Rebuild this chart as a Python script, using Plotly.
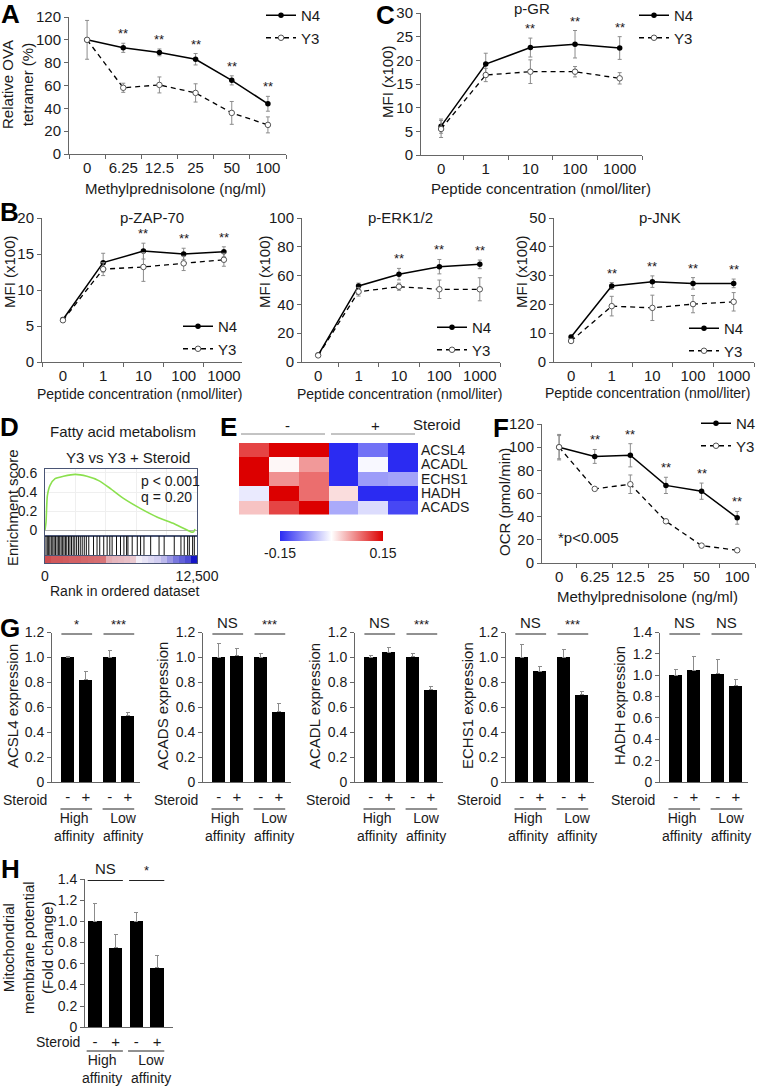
import numpy as np
import plotly.graph_objects as go

W, H = 757, 1090
FONT = "Liberation Sans, Arial, Helvetica, sans-serif"
AXC = "#666666"
ERRC = "#8c8c8c"
TXT = "#1a1a1a"

# ------------------------------------------------------------------ data
meth_doses = ["0", "6.25", "12.5", "25", "50", "100"]
peptide_conc = ["0", "1", "10", "100", "1000"]

ova_n4 = [100, 93, 89, 83, 64.5, 44]
ova_n4_err = [0, 4, 3, 5, 4, 6.5]
ova_y3 = [100, 58, 60.5, 53.5, 36, 25.5]
ova_y3_err = [17, 4, 7, 8, 10, 7]
ova_sig = ["", "**", "**", "**", "**", "**"]

pgr_n4 = [6.1, 19.2, 22.7, 23.4, 22.6]
pgr_n4_err = [1.5, 2.3, 2.0, 2.9, 2.4]
pgr_y3 = [5.5, 16.9, 17.6, 17.6, 16.2]
pgr_y3_err = [1.8, 1.4, 2.5, 1.1, 1.2]
pgr_sig = ["", "", "**", "**", "**"]

zap_n4 = [5.9, 13.8, 15.4, 15.0, 15.3]
zap_n4_err = [0.2, 1.3, 1.1, 0.8, 0.7]
zap_y3 = [5.8, 12.9, 13.2, 13.7, 14.2]
zap_y3_err = [0.2, 0.9, 2.0, 1.0, 0.9]
zap_sig = ["", "", "**", "**", "**"]

erk_n4 = [4.8, 52.8, 61.0, 66.2, 67.8]
erk_n4_err = [0.5, 2.0, 4.0, 5.0, 3.0]
erk_y3 = [4.6, 48.8, 52.3, 50.5, 50.5]
erk_y3_err = [0.5, 3.0, 2.5, 6.4, 8.0]
erk_sig = ["", "", "**", "**", "**"]

jnk_n4 = [8.7, 26.4, 27.9, 27.3, 27.3]
jnk_n4_err = [0.6, 1.2, 2.0, 2.0, 1.5]
jnk_y3 = [7.3, 19.4, 18.8, 20.1, 20.9]
jnk_y3_err = [0.5, 3.4, 4.4, 3.0, 3.2]
jnk_sig = ["", "**", "**", "**", "**"]

ocr_n4 = [100, 92, 93, 67, 62, 39]
ocr_n4_err = [11, 6, 10, 7, 7, 5.5]
ocr_y3 = [100, 64, 68, 36, 15, 11]
ocr_y3_err = [10, 0.5, 8, 0.5, 0.5, 0.5]
ocr_sig = ["", "**", "**", "**", "**", "**"]

# GSEA (panel D)
es_rank = [0, 83, 193, 414, 828, 1518, 2483, 3449, 4415, 5381, 6485, 7864,
           9244, 10624, 11728, 12004, 12224, 12335]
es_score = [0, 0.08, 0.36, 0.47, 0.54, 0.565, 0.585, 0.565, 0.52, 0.436, 0.33,
            0.225, 0.134, 0.067, -0.003, -0.02, -0.02, 0.01]
hit_ranks = [80, 190, 300, 400, 520, 640, 750, 860, 990, 1100, 1210, 1330, 1450,
             1560, 1680, 1790, 1930, 2050, 2180, 2320, 2450, 2600, 2750, 2900,
             3060, 3230, 3400, 3600, 3990, 4280, 4500, 4830, 5110, 5330, 5520,
             5880, 6210, 6490, 6710, 6820, 7170, 7590, 7860, 8140, 8690, 9380,
             9800, 10630, 11180, 11450, 11730, 11870, 12140, 12280]
rank_metric = [0.85, 0.8, 0.8, 0.78, 0.75, 0.75, 0.72, 0.7, 0.68, 0.65,
               0.35, 0.3, 0.28, 0.25, 0.2, 0.0, -0.05, -0.1, -0.15, -0.25,
               -0.4, -0.55, -0.65, -0.75, -1.0]

# Heatmap (panel E)
hm_genes = ["ACSL4", "ACADL", "ECHS1", "HADH", "ACADS"]
hm_samples = ["- 1", "- 2", "- 3", "+ 1", "+ 2", "+ 3"]
hm_z = [
    [0.11, 0.15, 0.15, -0.15, -0.10, -0.15],
    [0.15, 0.005, 0.06, -0.15, -0.005, -0.15],
    [0.15, 0.065, 0.085, -0.15, -0.07, -0.065],
    [-0.015, 0.15, 0.085, 0.02, -0.15, -0.15],
    [0.035, 0.11, 0.15, -0.06, -0.025, -0.13],
]

# Bar panels (G, H)
steroid_marks = ["-", "+", "-", "+"]
g_genes = ["ACSL4", "ACADS", "ACADL", "ECHS1", "HADH"]
g_vals = [
    [1.0, 0.82, 1.0, 0.53],
    [1.0, 1.015, 1.0, 0.562],
    [1.0, 1.04, 1.005, 0.74],
    [1.0, 0.887, 1.0, 0.70],
    [1.0, 1.045, 1.012, 0.902],
]
g_errs = [
    [0.006, 0.065, 0.053, 0.026],
    [0.115, 0.055, 0.03, 0.072],
    [0.012, 0.04, 0.025, 0.025],
    [0.107, 0.038, 0.067, 0.024],
    [0.057, 0.132, 0.132, 0.058],
]
g_sig = [["*", "***"], ["NS", "***"], ["NS", "***"], ["NS", "***"], ["NS", "NS"]]
g_ymax = [1.2, 1.2, 1.2, 1.2, 1.4]

mmp_vals = [1.0, 0.753, 1.0, 0.562]
mmp_errs = [0.17, 0.12, 0.08, 0.115]
mmp_sig = ["NS", "*"]

# ------------------------------------------------------------------ helpers
fig = go.Figure()
lay = {}
ann = []
shp = []


def px(x):
    return x / W


def py(y):
    return 1 - y / H


def refs(i):
    return ("x" if i == 1 else f"x{i}", "y" if i == 1 else f"y{i}")


def set_axes(i, xd, yd, xkw=None, ykw=None):
    xr, yr = refs(i)
    base = dict(showline=True, linecolor=AXC, linewidth=1, ticks="outside",
                ticklen=4, tickcolor=AXC, tickwidth=1, showgrid=False,
                zeroline=False, fixedrange=True, automargin=False,
                tickfont=dict(size=15, color=TXT, family=FONT))
    xa = dict(base)
    xa.update(domain=[px(xd[0]), px(xd[1])], anchor=yr, tickangle=0)
    ya = dict(base)
    ya.update(domain=[py(yd[1]), py(yd[0])], anchor=xr)
    if xkw:
        xa.update(xkw)
    if ykw:
        ya.update(ykw)
    lay["xaxis" if i == 1 else f"xaxis{i}"] = xa
    lay["yaxis" if i == 1 else f"yaxis{i}"] = ya
    return xr, yr


def text(x, y, t, size=15, xanchor="center", yanchor="middle", angle=0,
         bold=False, xref="paper", yref="paper", color=TXT, **kw):
    ann.append(dict(
        x=px(x) if xref == "paper" else x,
        y=py(y) if yref == "paper" else y,
        xref=xref, yref=yref, text=f"<b>{t}</b>" if bold else t,
        showarrow=False, xanchor=xanchor, yanchor=yanchor, textangle=angle,
        font=dict(size=size, family=FONT, color=color), **kw))


def hline(x0, x1, y, xref="paper", color="black", width=1):
    shp.append(dict(type="line", xref=xref, yref="paper",
                    x0=px(x0) if xref == "paper" else x0,
                    x1=px(x1) if xref == "paper" else x1,
                    y0=py(y), y1=py(y), line=dict(color=color, width=width)))


def line_panel(i, xd, yd, cats, n4, n4e, y3, y3e, sig, yrange, dtick,
               xrange, leg, leg_xy):
    xr, yr = set_axes(
        i, xd, yd,
        xkw=dict(type="category", range=xrange, tickson="boundaries"),
        ykw=dict(range=yrange, dtick=dtick, tick0=0))
    fig.add_trace(go.Scatter(
        x=cats, y=n4, mode="lines+markers", name="N4",
        line=dict(color="black", width=1.5),
        marker=dict(symbol="circle", size=5.5, color="black"),
        error_y=dict(type="data", array=n4e, color=ERRC, thickness=1, width=2),
        xaxis=xr, yaxis=yr, legend=leg))
    fig.add_trace(go.Scatter(
        x=cats, y=y3, mode="lines+markers", name="Y3",
        line=dict(color="black", width=1.3, dash="5px,4px"),
        marker=dict(symbol="circle", size=5.5, color="white",
                    line=dict(color="#555555", width=1)),
        error_y=dict(type="data", array=y3e, color=ERRC, thickness=1, width=2),
        xaxis=xr, yaxis=yr, legend=leg))
    for k, s in enumerate(sig):
        if s:
            ann.append(dict(x=k, y=n4[k] + n4e[k], xref=xr, yref=yr,
                            text=s, showarrow=False, yanchor="bottom",
                            font=dict(size=13, family=FONT, color=TXT)))
    lay[leg] = dict(x=px(leg_xy[0]), y=py(leg_xy[1]), xanchor="left",
                    yanchor="top", bgcolor="rgba(0,0,0,0)",
                    font=dict(size=15, family=FONT, color=TXT),
                    tracegroupgap=0, borderwidth=0)


def bar_panel(i, x0, xlen, yd, vals, errs, sig, ymax, pos, xrange, bw,
              steroid_y, group_y):
    ticks = [round(0.2 * k, 1) for k in range(int(round(ymax / 0.2)) + 1)]
    ttext = ["0" if t == 0 else f"{t:.1f}" for t in ticks]
    xr, yr = set_axes(
        i, (x0, x0 + xlen), yd,
        xkw=dict(range=xrange, tickvals=pos, ticktext=steroid_marks,
                 ticks="", ticklabelstandoff=1),
        ykw=dict(range=[0, ymax], tickvals=ticks, ticktext=ttext,
                 tickfont=dict(size=14, color=TXT, family=FONT)))
    fig.add_trace(go.Bar(
        x=pos, y=vals, width=bw, marker=dict(color="black", line=dict(width=0)),
        error_y=dict(type="data", symmetric=False, array=errs,
                     arrayminus=[0] * len(errs), color=ERRC, thickness=1,
                     width=2),
        xaxis=xr, yaxis=yr, showlegend=False))
    text(x0 - 3, steroid_y, "Steroid", size=14, xanchor="right")
    for g in range(2):
        a, b = pos[2 * g], pos[2 * g + 1]
        # significance bar
        hline(a - 0.35, b + 0.35, yd[0] + 1.5, xref=xr, color="#222")
        ann.append(dict(x=(a + b) / 2, y=py(yd[0]), xref=xr, yref="paper",
                        text=sig[g], showarrow=False, yanchor="bottom",
                        yshift=-1 if sig[g] != "NS" else 0,
                        font=dict(size=15 if sig[g] == "NS" else 13,
                                  family=FONT, color=TXT)))
        # group underline + label
        hline(a - 0.4, b + 0.35, steroid_y + 9, xref=xr, color="#222")
        ann.append(dict(x=(a + b) / 2, y=py(group_y), xref=xr, yref="paper",
                        text=["High<br>affinity", "Low<br>affinity"][g],
                        showarrow=False, yanchor="top", xshift=[-3, 4][g],
                        font=dict(size=14, family=FONT, color=TXT)))
    return xr, yr


# ------------------------------------------------------------------ panel A
line_panel(1, (69, 286), (17, 154), meth_doses, ova_n4, ova_n4_err, ova_y3,
           ova_y3_err, ova_sig, [0, 120], 20, [-0.5, 5.5], "legend", (261, -1))
text(175, 188, "Methylprednisolone (ng/ml)")
text(18, 85, "Relative OVA<br>tetramer (%)", angle=-90)

# ------------------------------------------------------------------ panel C
line_panel(2, (421, 642), (13, 155), peptide_conc, pgr_n4, pgr_n4_err, pgr_y3,
           pgr_y3_err, pgr_sig, [0, 30], 5, [-0.45, 4.5], "legend2", (634, -1))
text(532, 8, "p-GR")
text(541, 188, "Peptide concentration (nmol/liter)")
text(388, 82, "MFI (x100)", angle=-90)

# ------------------------------------------------------------------ panel B
line_panel(3, (42, 242), (218, 362), peptide_conc, zap_n4, zap_n4_err, zap_y3,
           zap_y3_err, zap_sig, [0, 20], 5, [-0.52, 4.45], "legend3", (178, 310))
text(152, 218, "p-ZAP-70")
text(139, 394, "Peptide concentration (nmol/liter)", size=14)
text(9, 272, "MFI (x100)", angle=-90)

line_panel(4, (302, 500), (218, 362), peptide_conc, erk_n4, erk_n4_err, erk_y3,
           erk_y3_err, erk_sig, [0, 100], 20, [-0.4, 4.5], "legend4", (432, 311))
text(400, 218, "p-ERK1/2")
text(399, 394, "Peptide concentration (nmol/liter)", size=14)
text(264, 272, "MFI (x100)", angle=-90)

line_panel(5, (554, 754), (218, 362), peptide_conc, jnk_n4, jnk_n4_err, jnk_y3,
           jnk_y3_err, jnk_sig, [0, 50], 10, [-0.42, 4.5], "legend5", (684, 312))
text(660, 218, "p-JNK")
text(647, 393, "Peptide concentration (nmol/liter)", size=14)
text(521, 272, "MFI (x100)", angle=-90)

# ------------------------------------------------------------------ panel D
FRAME = "#4a5575"
dx = (45, 197)
xr, yr = set_axes(
    6, dx, (469, 536),
    xkw=dict(range=[0, 12500], showticklabels=False, ticks="", mirror=True,
             linecolor=FRAME, showgrid=True, gridcolor="#efefef", dtick=2500),
    ykw=dict(range=[-0.063, 0.642], tickvals=[0, 0.2, 0.4, 0.6],
             ticktext=["0", "0.2", "0.4", "0.6"], ticks="", mirror=True,
             linecolor=FRAME, ticklabelstandoff=4, showgrid=True,
             gridcolor="#efefef", zeroline=True, zerolinecolor="#b0b0b0",
             zerolinewidth=1, tickfont=dict(size=14, color=TXT, family=FONT)))
fig.add_trace(go.Scatter(x=es_rank, y=es_score, mode="lines",
                         line=dict(color="#8be04e", width=1.6, shape="spline",
                                   smoothing=0.6),
                         xaxis=xr, yaxis=yr, showlegend=False))
hx, hy = [], []
for r in hit_ranks:
    hx += [r, r, None]
    hy += [0, 1, None]
xr, yr = set_axes(
    7, dx, (536, 556),
    xkw=dict(range=[0, 12500], showticklabels=False, ticks="", mirror=True,
             linecolor=FRAME),
    ykw=dict(range=[0, 1], showticklabels=False, ticks="", mirror=True,
             linecolor=FRAME))
fig.add_trace(go.Scatter(x=hx, y=hy, mode="lines",
                         line=dict(color="#111111", width=1),
                         xaxis=xr, yaxis=yr, showlegend=False))
edges = np.linspace(0, 12500, len(rank_metric) + 1)
centers = (edges[:-1] + edges[1:]) / 2
xr, yr = set_axes(
    8, dx, (556, 563),
    xkw=dict(range=[0, 12500], tickvals=[0, 12500], ticktext=["0", "12,500"],
             ticks="", mirror=True, linecolor=FRAME,
             tickfont=dict(size=14, color=TXT, family=FONT)),
    ykw=dict(range=[-0.5, 0.5], showticklabels=False, ticks="", mirror=True,
             linecolor=FRAME))
fig.add_trace(go.Heatmap(x=centers, y=[0], z=[rank_metric], zmin=-1, zmax=1,
                         colorscale=[[0, "#1414c8"], [0.5, "#f3eff8"],
                                     [1, "#c83232"]],
                         showscale=False, xaxis=xr, yaxis=yr, hoverinfo="skip"))
text(123, 431, "Fatty acid metabolism")
text(128, 457, "Y3 vs Y3 + Steroid")
text(170, 481, "p &lt; 0.001", size=14)
text(166, 497, "q = 0.20", size=14)
text(12, 508, "Enrichment score", angle=-90)
text(125, 591, "Rank in ordered dataset", size=14)

# ------------------------------------------------------------------ panel E
xr, yr = set_axes(
    9, (239, 418), (443, 514.5),
    xkw=dict(visible=False, type="category"),
    ykw=dict(type="category", autorange="reversed", side="right",
             showline=False, ticks="", ticklabelstandoff=2,
             tickmode="array", tickvals=hm_genes, ticktext=hm_genes,
             tickfont=dict(size=14, color=TXT, family=FONT)))
fig.add_trace(go.Heatmap(
    x=hm_samples, y=hm_genes, z=hm_z, zmin=-0.15, zmax=0.15,
    colorscale=[[0, "#2b2bf2"], [0.5, "#ffffff"], [1, "#dc0000"]],
    xaxis=xr, yaxis=yr, hoverinfo="skip",
    colorbar=dict(orientation="h", x=px(331.5), xanchor="center",
                  y=py(544), yanchor="middle", len=123 / W, lenmode="fraction",
                  thickness=10, thicknessmode="pixels", outlinewidth=0,
                  tickvals=[-0.15, 0.15], ticktext=["-0.15", "0.15"], ticks="",
                  tickfont=dict(size=14, color=TXT, family=FONT))))
text(287, 425, "-", size=15)
text(375, 425, "+", size=15)
text(437, 424, "Steroid", size=15)
hline(241, 325, 434, color="#888888")
hline(331, 415, 434, color="#888888")

# ------------------------------------------------------------------ panel F
line_panel(10, (542, 755), (424, 563), meth_doses, ocr_n4, ocr_n4_err, ocr_y3,
           ocr_y3_err, ocr_sig, [0, 120], 20, [-0.48, 5.5], "legend6", (696, 407))
text(647, 596, "Methylprednisolone (ng/ml)")
text(504, 502, "OCR (pmol/min)", angle=-90)
text(588, 537, "*p&lt;0.005")

# ------------------------------------------------------------------ panel G
GAP = 2.33
g_pos = [g * GAP + s for g in range(2) for s in range(2)]
g_x0 = [52, 203, 355, 506, 660]
g_ytitle_x = [12, 162, 314, 467, 619]
for k in range(5):
    bar_panel(11 + k, g_x0[k], 88, (632.5, 782), g_vals[k], g_errs[k],
              g_sig[k], g_ymax[k], g_pos, [-0.87, 4.0], 0.72, 800, 808)
    text(g_ytitle_x[k], 706, f"{g_genes[k]} expression", angle=-90)

# ------------------------------------------------------------------ panel H
h_pos = [0, 1, 2, 3]
bar_panel(16, 85, 88, (879, 1027.3), mmp_vals, mmp_errs, mmp_sig, 1.4, h_pos,
          [-0.48, 3.77], 0.66, 1042, 1050)
text(28, 948, "Mitochondrial<br>membrane potential<br>(Fold change)", angle=-90)

# ------------------------------------------------------------------ letters
for letter, (lx, ly) in {"A": (10, 14), "B": (9, 212), "C": (386, 15),
                         "D": (9, 427), "E": (228, 427), "F": (501, 428),
                         "G": (10, 628), "H": (10, 869)}.items():
    text(lx, ly, letter, size=26, bold=True, color="black")

fig.update_layout(
    width=W, height=H,
    margin=dict(l=0, r=0, t=0, b=0, pad=0, autoexpand=False),
    paper_bgcolor="white", plot_bgcolor="rgba(0,0,0,0)",
    font=dict(family=FONT, color=TXT), annotations=ann, shapes=shp,
    bargap=0, **lay)

fig.write_html(
    "out.html",
    config={"displayModeBar": False, "staticPlot": True},
    post_script="document.body.style.margin='0px';"
                "document.body.style.padding='0px';")
